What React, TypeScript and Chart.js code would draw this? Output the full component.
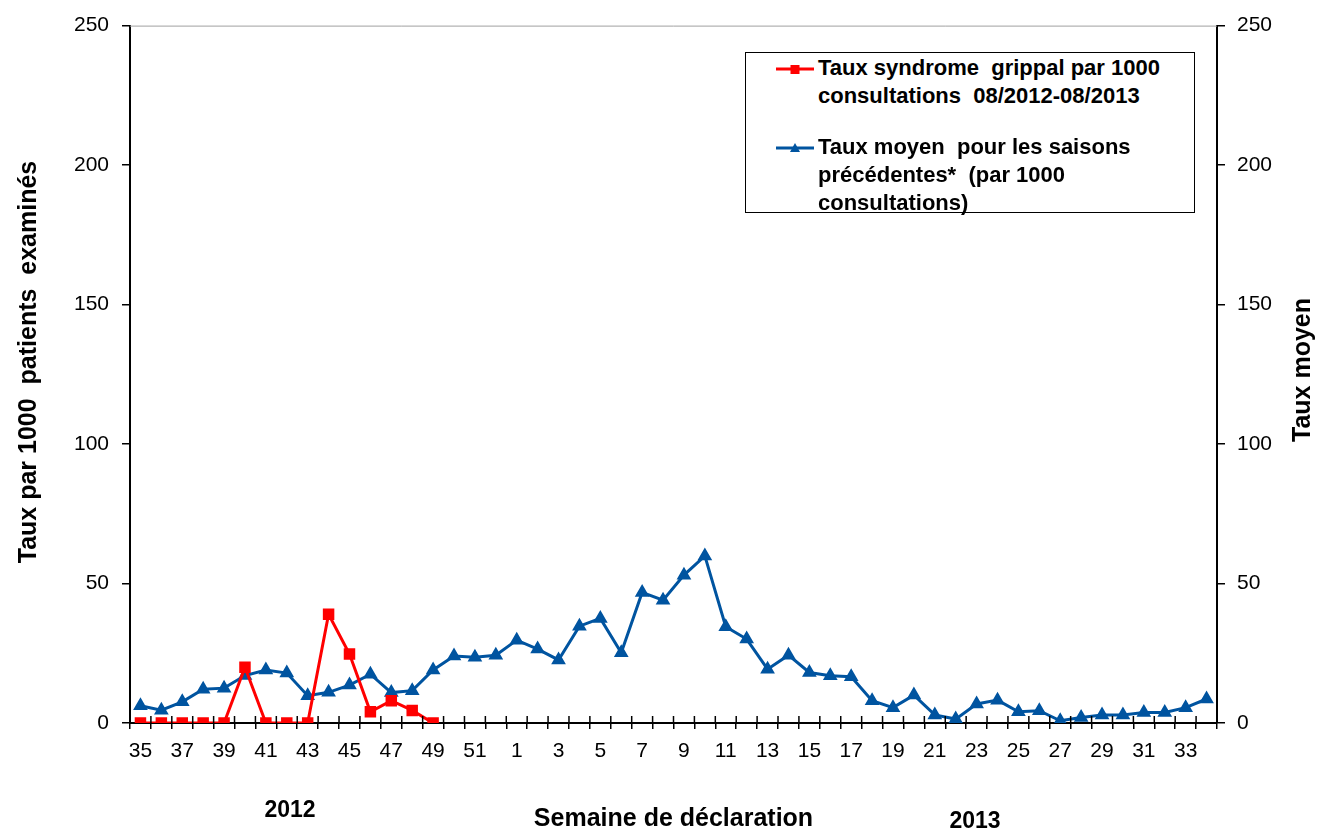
import React, { useEffect, useRef } from "react";
import { Chart, registerables } from "chart.js";

Chart.register(...registerables);

const weeks: string[] = [
  "35", "36", "37", "38", "39", "40", "41", "42", "43", "44", "45", "46", "47", "48", "49", "50", "51", "52",
  "1", "2", "3", "4", "5", "6", "7", "8", "9", "10", "11", "12", "13", "14", "15", "16", "17", "18", "19", "20",
  "21", "22", "23", "24", "25", "26", "27", "28", "29", "30", "31", "32", "33", "34",
];

const tauxSyndrome: (number | null)[] = [
  0, 0, 0, 0, 0, 20, 0, 0, 0, 39, 24.7, 4, 8, 4.5, 0,
];

const tauxMoyen: number[] = [
  6.2, 4.6, 7.6, 12.1, 12.5, 17, 19, 17.9, 9.8, 11, 13.6, 17.5, 10.9, 11.6, 19, 24, 23.6, 24.3,
  29.7, 26.5, 22.6, 34.7, 37.5, 25.2, 46.8, 44, 53, 59.9, 34.5, 30.1, 19.3, 24.3, 18.1, 16.9, 16.6, 8,
  5.5, 10, 2.9, 1.4, 6.8, 8.2, 4, 4.4, 0.8, 2, 2.9, 2.9, 3.8, 3.8, 5.5, 8.6,
];

const yMin = 0;
const yMax = 250;
const yStep = 50;

const legendSyndrome = ["Taux syndrome  grippal par 1000", "consultations  08/2012-08/2013"];
const legendMoyen = ["Taux moyen  pour les saisons", "précédentes*  (par 1000", "consultations)"];

const FONT = "'Liberation Sans', Arial, sans-serif";
const RED = "#FF0000";
const BLUE = "#0054A0";

const decorPlugin = {
  id: "decor",
  afterDraw(chart: any) {
    const { ctx, chartArea: ca, scales } = chart;
    const x = scales.x;
    ctx.save();
    // top frame line
    ctx.strokeStyle = "#a0a0a0";
    ctx.lineWidth = 1;
    ctx.beginPath();
    ctx.moveTo(ca.left, ca.top + 0.5);
    ctx.lineTo(ca.right, ca.top + 0.5);
    ctx.stroke();
    // inner part of x ticks (cross the axis)
    ctx.strokeStyle = "#000";
    ctx.lineWidth = 1.5;
    for (let i = 0; i <= weeks.length; i++) {
      const px = x.getPixelForValue(i - 0.5);
      ctx.beginPath();
      ctx.moveTo(px, ca.bottom - 7);
      ctx.lineTo(px, ca.bottom);
      ctx.stroke();
    }
    // axis titles
    ctx.fillStyle = "#000";
    ctx.font = `bold 25px ${FONT}`;
    ctx.textAlign = "center";
    ctx.textBaseline = "middle";
    ctx.save();
    ctx.translate(29, 362);
    ctx.rotate(-Math.PI / 2);
    ctx.fillText("Taux par 1000  patients  examinés", 0, 0);
    ctx.restore();
    ctx.save();
    ctx.translate(1303, 370);
    ctx.rotate(-Math.PI / 2);
    ctx.fillText("Taux moyen", 0, 0);
    ctx.restore();
    ctx.font = `bold 23px ${FONT}`;
    ctx.fillText("2012", 290, 811);
    ctx.fillText("2013", 975, 822);
    ctx.restore();
  },
};

export default function App() {
  const ref = useRef<HTMLCanvasElement | null>(null);

  useEffect(() => {
    if (!ref.current) return;
    const chart = new Chart(ref.current, {
      type: "line",
      data: {
        labels: weeks,
        datasets: [
          {
            label: legendSyndrome.join(" "),
            data: tauxSyndrome,
            borderColor: RED,
            backgroundColor: RED,
            borderWidth: 3,
            pointStyle: "rect",
            pointRadius: 6,
            pointHoverRadius: 6,
            tension: 0,
            yAxisID: "y",
            order: 1,
          },
          {
            label: legendMoyen.join(" "),
            data: tauxMoyen,
            borderColor: BLUE,
            backgroundColor: BLUE,
            borderWidth: 3,
            pointStyle: "triangle",
            pointRadius: 5.5,
            pointHoverRadius: 5.5,
            tension: 0,
            yAxisID: "y1",
            order: 2,
          },
        ],
      },
      options: {
        responsive: false,
        animation: false,
        layout: { padding: { top: 25, left: 0, right: 0, bottom: 0 } },
        plugins: {
          legend: { display: false },
          tooltip: { enabled: false },
        },
        scales: {
          x: {
            type: "category",
            offset: true,
            grid: {
              offset: true,
              drawOnChartArea: false,
              drawTicks: true,
              tickLength: 6,
              color: "#000",
              lineWidth: 1.5,
            },
            border: { display: true, color: "#000", width: 2 },
            ticks: {
              autoSkip: false,
              maxRotation: 0,
              minRotation: 0,
              padding: 10,
              color: "#000",
              font: { family: FONT, size: 21 },
              callback: (_v: any, i: number) => (i % 2 === 0 ? weeks[i] : ""),
            },
            title: {
              display: true,
              text: "Semaine de déclaration",
              color: "#000",
              font: { family: FONT, size: 25, weight: "bold", lineHeight: 1 },
              padding: { top: 0, bottom: -1 },
            },
            afterFit: (s: any) => {
              s.height = 108;
            },
          },
          y: {
            position: "left",
            min: yMin,
            max: yMax,
            ticks: {
              stepSize: yStep,
              padding: 13,
              color: "#000",
              font: { family: FONT, size: 21 },
            },
            grid: {
              drawOnChartArea: false,
              drawTicks: true,
              tickLength: 8,
              color: "#000",
              lineWidth: 1.5,
            },
            border: { display: true, color: "#000", width: 2 },
            afterFit: (s: any) => {
              s.width = 130;
            },
          },
          y1: {
            position: "right",
            min: yMin,
            max: yMax,
            ticks: {
              stepSize: yStep,
              padding: 12,
              color: "#000",
              font: { family: FONT, size: 21 },
            },
            grid: {
              drawOnChartArea: false,
              drawTicks: true,
              tickLength: 8,
              color: "#000",
              lineWidth: 1.5,
            },
            border: { display: true, color: "#000", width: 2 },
            afterFit: (s: any) => {
              s.width = 102;
            },
          },
        },
      },
      plugins: [decorPlugin],
    });
    return () => chart.destroy();
  }, []);

  const textStyle: React.CSSProperties = {
    position: "absolute",
    left: 72,
    fontFamily: FONT,
    fontWeight: "bold",
    fontSize: 22,
    lineHeight: "28px",
    whiteSpace: "pre",
    color: "#000",
  };

  return (
    <div style={{ position: "absolute", left: 0, top: 0, width: 1319, height: 831, background: "#fff" }}>
      <canvas ref={ref} width={1319} height={831} style={{ display: "block", position: "absolute", left: 0, top: 0 }} />
      <div
        style={{
          position: "absolute",
          left: 745,
          top: 52,
          width: 450,
          height: 161,
          boxSizing: "border-box",
          border: "1.5px solid #000",
          background: "#fff",
        }}
      >
        <svg style={{ position: "absolute", left: 29, top: 8 }} width={40} height={16}>
          <line x1={1} y1={8} x2={39} y2={8} stroke={RED} strokeWidth={3} />
          <rect x={15.5} y={4} width={9} height={9} fill={RED} />
        </svg>
        <div style={{ ...textStyle, top: 1 }}>
          {legendSyndrome.map((l, i) => (
            <div key={i}>{l}</div>
          ))}
        </div>
        <svg style={{ position: "absolute", left: 29, top: 87 }} width={40} height={16}>
          <line x1={1} y1={8} x2={39} y2={8} stroke={BLUE} strokeWidth={3} />
          <polygon points="20,3 25,12 15,12" fill={BLUE} />
        </svg>
        <div style={{ ...textStyle, top: 80 }}>
          {legendMoyen.map((l, i) => (
            <div key={i}>{l}</div>
          ))}
        </div>
      </div>
    </div>
  );
}
